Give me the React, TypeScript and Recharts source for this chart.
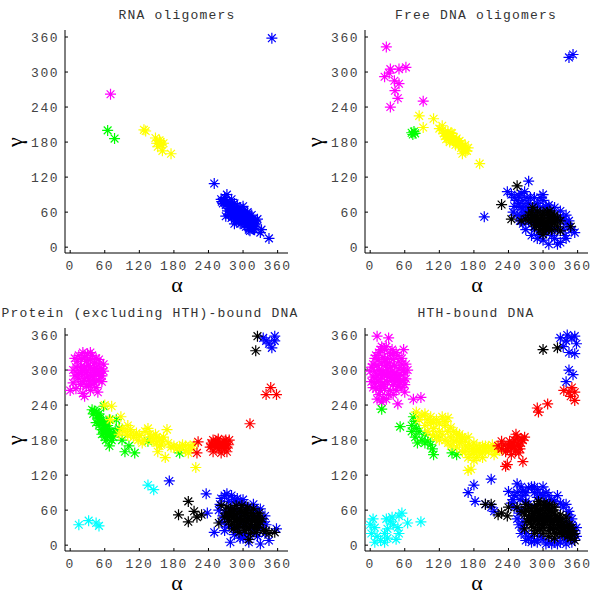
import React from 'react'
import { ScatterChart, Scatter, XAxis, YAxis } from 'recharts'

// angle ticks shared by every panel
const TICKS = [0, 60, 120, 180, 240, 300, 360]

// colours of the conformational classes
const MAGENTA = '#ff00ff'
const GREEN = '#00ff00'
const YELLOW = '#ffff00'
const RED = '#ff0000'
const CYAN = '#00ffff'
const BLUE = '#0000ff'
const BLACK = '#000000'

// [alpha, gamma] pairs
const rnaMagenta = [[70, 262]]
const rnaGreen = [[65, 200], [77, 186]]
const rnaYellow = [
  [128, 201], [131, 199], [148, 187], [150, 178], [155, 183], [158, 176], [162, 178],
  [160, 165], [175, 160], [152, 172], [157, 180],
]
const rnaBlue = [
  [250, 109], [350, 358], [345, 15], [330, 25], [332, 30],
  [262, 82], [268, 85], [272, 90], [280, 82], [265, 75], [270, 72], [275, 70], [278, 65],
  [282, 72], [285, 60], [288, 65], [290, 55], [292, 62], [295, 50], [298, 58], [300, 48],
  [302, 55], [305, 45], [308, 52], [310, 40], [312, 48], [315, 35], [318, 42], [320, 30],
  [322, 45], [325, 48], [312, 28], [305, 35], [295, 40], [288, 45], [280, 50], [275, 55],
  [270, 53], [285, 75], [295, 68], [300, 62], [308, 60], [315, 55], [298, 42], [290, 48],
  [283, 55], [278, 60], [303, 38], [310, 34], [318, 38], [290, 70], [300, 70], [285, 40],
  [263, 78], [267, 80], [272, 78], [277, 75], [281, 68], [286, 66], [291, 60], [296, 56],
  [301, 52], [306, 48], [311, 44], [316, 40], [321, 36], [273, 62], [278, 56], [283, 52],
  [288, 50], [293, 46], [298, 50], [303, 44], [308, 40], [313, 36], [318, 32], [296, 62],
  [302, 60], [307, 56], [312, 52], [317, 48], [322, 40], [292, 52], [287, 58], [282, 60],
  [276, 66], [310, 30], [300, 45], [305, 52],
]

const freeMagenta = [
  [28, 343], [35, 305], [33, 298], [25, 292], [50, 305], [62, 308], [42, 285], [50, 280],
  [43, 268], [48, 255], [35, 240], [92, 250],
]
const freeGreen = [[72, 196], [76, 198], [78, 195], [74, 193]]
const freeYellow = [
  [85, 225], [92, 205], [110, 220], [125, 208], [120, 203], [128, 195], [135, 198],
  [140, 190], [132, 185], [138, 180], [145, 188], [150, 180], [148, 175], [155, 182],
  [158, 170], [162, 168], [165, 175], [168, 165], [160, 160], [170, 170], [190, 143],
  [142, 195], [130, 190], [125, 200], [133, 192], [140, 196], [143, 183], [150, 186],
  [153, 176], [160, 174], [165, 165], [158, 178], [145, 182], [135, 188],
]
const freeBlue = [
  [198, 52], [275, 113], [345, 325], [352, 330], [238, 95], [245, 90], [250, 85], [255, 80],
  [258, 75], [262, 68], [265, 80], [270, 60], [275, 75], [272, 85], [268, 55], [260, 45],
  [255, 55], [248, 60], [280, 65], [285, 70], [290, 60], [295, 68], [300, 80], [305, 62],
  [310, 55], [315, 60], [320, 50], [325, 45], [330, 52], [335, 48], [340, 40], [345, 35],
  [355, 25], [338, 20], [330, 8], [325, 5], [310, 5], [315, 20], [305, 25], [295, 22],
  [320, 30], [300, 35], [285, 30], [280, 40], [275, 45], [290, 45], [310, 40], [325, 30],
  [265, 40], [270, 70], [290, 75], [305, 70], [250, 70], [258, 88], [262, 92], [268, 95],
  [278, 85], [285, 85], [295, 85], [300, 90], [310, 72], [320, 68], [330, 62], [340, 55],
  [345, 45], [350, 30], [335, 30], [340, 15], [320, 15], [300, 12], [290, 15], [280, 20],
  [270, 30], [260, 55], [265, 65],
]
const freeBlack = [
  [228, 73], [255, 105], [245, 48], [262, 45], [270, 48], [280, 60], [285, 50], [290, 45],
  [295, 55], [300, 40], [305, 50], [310, 45], [315, 38], [298, 30], [292, 35], [285, 42],
  [308, 60], [320, 45], [300, 22], [330, 28], [348, 35], [310, 30], [295, 48], [305, 42],
  [315, 50], [288, 55], [278, 48], [282, 68], [275, 55], [280, 45], [285, 35], [290, 50],
  [295, 40], [300, 55], [305, 35], [310, 50], [315, 45], [320, 40], [325, 50], [320, 55],
  [312, 62], [300, 60], [290, 62], [282, 55], [295, 30], [305, 30], [315, 30], [325, 35],
  [330, 45], [298, 45], [288, 38], [308, 38], [318, 52],
]

const protMagenta = [
  [15, 325], [22, 330], [30, 328], [38, 325], [45, 320], [12, 315], [20, 318], [28, 315],
  [35, 318], [42, 312], [50, 310], [10, 305], [18, 305], [25, 305], [32, 308], [40, 302],
  [48, 300], [55, 302], [12, 295], [20, 295], [28, 295], [35, 295], [45, 292], [52, 290],
  [15, 285], [25, 285], [32, 282], [40, 285], [50, 282], [18, 275], [28, 272], [38, 275],
  [45, 270], [0, 265], [10, 268], [22, 260], [25, 255], [35, 265], [48, 262], [5, 278],
  [55, 290], [30, 290], [8, 320], [25, 322], [35, 330], [50, 318], [58, 310], [58, 298],
  [55, 280], [42, 278], [32, 275], [22, 280], [15, 292], [8, 290], [5, 300], [38, 290],
  [45, 305], [28, 300], [20, 300], [35, 305], [42, 295], [50, 295],
]
const protGreen = [
  [38, 232], [42, 230], [45, 228], [50, 225], [48, 218], [52, 212], [55, 208], [45, 210],
  [58, 205], [60, 200], [62, 195], [55, 198], [65, 190], [70, 185], [68, 195], [75, 192],
  [60, 185], [72, 180], [58, 238], [68, 215], [80, 215], [85, 200], [90, 180], [95, 160],
  [102, 170], [112, 158], [135, 178], [190, 158], [68, 170], [78, 195], [65, 205],
  [40, 225], [48, 222], [52, 218], [58, 212], [62, 205], [58, 192], [65, 198], [70, 190],
  [75, 185], [62, 180], [55, 190], [50, 205],
]
const protYellow = [
  [60, 240], [72, 238], [70, 215], [88, 220], [90, 200], [95, 195], [100, 205], [105, 198],
  [115, 192], [120, 188], [128, 180], [125, 175], [135, 200], [140, 185], [145, 180],
  [150, 175], [155, 182], [148, 190], [158, 172], [160, 178], [152, 160], [165, 150],
  [168, 198], [180, 170], [185, 165], [195, 172], [200, 162], [205, 158], [210, 165],
  [215, 172], [218, 133], [100, 188], [85, 190], [110, 185], [105, 190], [118, 180],
  [130, 195], [138, 190], [142, 178], [150, 185], [155, 170], [162, 185], [170, 175],
  [175, 168], [190, 168], [200, 170], [208, 170],
]
const protRed = [
  [222, 177], [220, 158], [245, 175], [250, 170], [255, 178], [258, 165], [262, 158],
  [265, 172], [270, 180], [272, 168], [268, 165], [260, 175], [275, 172], [248, 180],
  [253, 168], [312, 208], [340, 258], [348, 270], [358, 258], [243, 168], [248, 160],
  [252, 175], [257, 182], [263, 168], [267, 178], [272, 160], [276, 180], [270, 172],
  [258, 172], [246, 172],
]
const protCyan = [[15, 35], [32, 42], [45, 38], [50, 33], [135, 103], [145, 95]]
const protBlue = [
  [172, 110], [236, 88], [238, 55], [250, 22], [278, 5], [330, 2], [345, 8], [358, 28],
  [260, 70], [268, 85], [280, 85], [275, 75], [285, 78], [290, 72], [300, 70], [310, 65],
  [320, 60], [325, 55], [330, 45], [335, 40], [330, 30], [320, 25], [310, 18], [300, 20],
  [290, 25], [280, 30], [270, 35], [265, 50], [270, 60], [285, 60], [295, 55], [305, 50],
  [315, 45], [325, 35], [292, 40], [302, 35], [315, 30], [340, 350], [355, 358], [350, 338],
  [335, 355], [345, 345], [355, 350], [300, 12], [310, 5], [262, 80], [272, 88], [290, 80],
  [300, 78], [318, 70], [330, 62], [338, 50], [340, 35], [338, 20], [325, 15], [295, 12],
  [285, 18], [268, 25], [262, 40], [258, 60],
]
const protBlack = [
  [188, 52], [205, 75], [205, 40], [215, 58], [220, 48], [228, 52], [258, 38], [262, 68],
  [310, 10], [345, 20], [340, 25], [355, 22], [325, 358], [322, 333],
  [270, 55], [275, 45], [280, 50], [285, 40], [290, 55], [295, 45], [300, 50], [305, 40],
  [310, 48], [315, 38], [320, 45], [325, 50], [330, 40], [285, 62], [295, 62], [305, 60],
  [315, 55], [280, 35], [290, 30], [300, 32], [310, 28], [320, 30], [275, 40], [300, 42],
  [290, 45], [310, 55], [325, 30], [335, 25], [272, 65], [278, 58], [283, 48], [288, 40],
  [293, 35], [298, 58], [303, 55], [308, 45], [313, 35], [318, 50], [323, 40], [328, 35],
  [333, 45], [283, 28], [293, 22], [303, 25], [313, 20], [323, 22], [278, 62], [288, 68],
  [298, 68], [308, 65], [318, 62], [328, 55], [296, 38], [306, 32], [316, 42], [326, 45],
  [286, 52], [276, 52], [268, 48],
]

const hthMagenta = [
  [12, 358], [32, 355], [58, 335], [45, 330], [20, 340], [15, 330], [25, 335], [35, 328],
  [8, 320], [15, 318], [22, 322], [30, 320], [40, 318], [50, 315], [55, 310], [5, 310],
  [12, 308], [20, 310], [28, 308], [35, 305], [42, 308], [50, 302], [58, 300], [0, 298],
  [8, 298], [15, 300], [22, 298], [30, 300], [38, 298], [45, 295], [52, 292], [60, 295],
  [5, 288], [12, 290], [20, 288], [28, 290], [35, 288], [42, 285], [50, 285], [58, 282],
  [8, 278], [15, 280], [22, 278], [30, 280], [40, 275], [48, 272], [55, 270], [10, 268],
  [18, 265], [25, 268], [35, 265], [45, 265], [15, 258], [22, 252], [48, 242], [75, 250],
  [88, 253], [60, 262], [20, 245], [3, 305], [10, 325], [18, 335], [28, 340], [38, 335],
  [48, 325], [55, 320], [62, 310], [65, 300], [62, 285], [60, 275], [52, 278], [45, 280],
  [38, 282], [25, 275], [18, 272], [5, 270], [2, 280], [25, 292], [32, 295], [40, 292],
  [48, 290], [10, 285], [18, 295], [25, 315], [33, 312], [40, 325], [28, 250], [32, 258],
  [40, 258], [12, 250],
]
const hthGreen = [
  [20, 233], [52, 203], [75, 220], [78, 212], [72, 205], [80, 200], [72, 195], [85, 195],
  [78, 185], [90, 180], [95, 175], [100, 178], [105, 172], [108, 165], [110, 155], [95, 190],
  [115, 185], [142, 158], [150, 155], [82, 175],
]
const hthYellow = [
  [80, 228], [90, 222], [100, 215], [95, 205], [105, 210], [115, 215], [125, 220], [135, 218],
  [140, 202], [110, 200], [120, 195], [100, 195], [115, 185], [125, 190], [130, 180],
  [140, 185], [145, 178], [150, 180], [155, 175], [160, 185], [165, 178], [170, 185],
  [150, 168], [160, 160], [170, 165], [175, 155], [180, 160], [185, 170], [190, 165],
  [195, 158], [200, 170], [205, 160], [210, 165], [215, 155], [175, 130], [170, 128],
  [185, 150], [195, 170], [155, 190], [135, 195], [220, 168], [180, 175], [85, 215],
  [95, 225], [105, 220], [110, 210], [120, 208], [130, 205], [130, 212], [145, 195],
  [150, 190], [158, 182], [165, 170], [172, 172], [178, 165], [185, 162], [190, 158],
  [200, 162], [205, 168], [212, 172], [218, 160], [225, 162], [195, 150], [180, 145],
  [170, 150], [165, 160], [140, 170], [135, 175], [120, 180], [108, 188],
]
const hthRed = [
  [222, 170], [228, 165], [235, 160], [240, 170], [245, 165], [248, 175], [250, 180],
  [255, 185], [258, 170], [252, 160], [260, 165], [245, 155], [262, 182], [265, 143],
  [235, 135], [238, 138], [290, 235], [292, 228], [308, 242], [336, 265], [345, 262],
  [350, 270], [355, 262], [348, 255], [355, 248], [242, 178], [250, 168], [255, 175],
  [258, 158], [245, 170], [238, 165], [232, 172], [262, 175], [228, 178], [253, 190],
  [265, 180], [268, 185],
]
const hthCyan = [
  [5, 45], [0, 35], [8, 30], [2, 20], [12, 15], [18, 8], [25, 5], [8, 5], [30, 12], [28, 45],
  [35, 40], [38, 48], [30, 28], [40, 35], [48, 30], [45, 10], [50, 20], [50, 50], [55, 55],
  [65, 38], [88, 40], [25, 20],
]
const hthBlue = [
  [180, 103], [170, 90], [182, 75], [210, 113], [200, 70], [215, 58], [210, 65],
  [240, 92], [250, 85], [255, 105], [262, 100], [270, 90], [280, 100], [290, 95], [300, 100],
  [310, 85], [330, 72], [260, 78], [270, 75], [245, 72], [250, 65], [262, 60], [265, 40],
  [265, 30], [270, 20], [275, 12], [285, 8], [295, 15], [300, 10], [310, 5], [320, 8],
  [330, 5], [340, 8], [350, 12], [345, 52], [340, 40], [350, 35], [355, 25], [345, 20],
  [335, 15], [275, 70], [340, 25], [280, 15], [255, 45], [290, 82], [325, 85], [305, 75],
  [330, 355], [340, 350], [350, 355], [358, 345], [345, 330], [355, 328], [345, 300],
  [352, 292], [340, 280], [355, 358], [335, 340], [342, 360], [248, 78], [255, 90],
  [265, 92], [275, 98], [285, 90], [295, 88], [305, 90], [315, 78], [320, 75], [335, 65],
  [345, 58], [350, 45], [358, 30], [358, 15], [350, 5], [340, 2], [325, 2], [315, 2],
  [305, 2], [290, 5], [280, 5], [270, 8], [262, 20], [258, 35], [258, 55], [265, 85],
  [285, 100], [340, 70], [300, 85],
]
const hthBlack = [
  [200, 70], [210, 70], [222, 52], [228, 55], [238, 50], [240, 65], [255, 65], [262, 58],
  [268, 28], [300, 335], [325, 338],
  [270, 60], [275, 50], [280, 45], [285, 55], [290, 48], [295, 60], [300, 55], [305, 45],
  [310, 50], [315, 40], [320, 45], [325, 35], [330, 30], [335, 25], [340, 32], [350, 30],
  [355, 20], [355, 8], [345, 25], [280, 35], [290, 35], [300, 30], [310, 25], [320, 20],
  [285, 65], [295, 70], [305, 68], [315, 60], [300, 40], [290, 25], [310, 35], [330, 45],
  [275, 65], [270, 70], [275, 58], [280, 62], [285, 45], [290, 58], [295, 50], [300, 62],
  [305, 55], [310, 60], [315, 50], [320, 55], [325, 45], [330, 40], [335, 35], [340, 40],
  [345, 35], [350, 25], [278, 40], [283, 30], [288, 42], [293, 38], [298, 45], [303, 35],
  [308, 42], [313, 30], [318, 35], [323, 28], [328, 22], [333, 18], [338, 20], [343, 15],
  [348, 12], [300, 20], [310, 15], [320, 12], [295, 28], [285, 20], [305, 68], [290, 68],
  [275, 45], [340, 48], [330, 52], [320, 65], [312, 70], [268, 52], [272, 40], [282, 50],
  [287, 62], [292, 52], [297, 35], [302, 48], [307, 62], [312, 45], [317, 28], [322, 50],
  [327, 40], [332, 35], [337, 28], [342, 22], [347, 30], [352, 18], [317, 65], [302, 72],
  [292, 75],
]

type Pair = number[]
interface Series { color: string; pts: Pair[] }

const toRows = (pts: Pair[]) => pts.map(([a, g]) => ({ a, g }))

// matlab style '*' marker
const star = (color: string) => (props: any) => {
  const { cx, cy } = props
  if (cx == null || cy == null) return <g />
  const r = 5.5
  const d = r * 0.707
  const path =
    `M${cx - r},${cy}H${cx + r}M${cx},${cy - r}V${cy + r}` +
    `M${cx - d},${cy - d}L${cx + d},${cy + d}M${cx - d},${cy + d}L${cx + d},${cy - d}`
  return <path d={path} stroke={color} strokeWidth={1.2} fill="none" />
}

const tickStyle = {
  fill: '#444',
  fontSize: 13,
  fontFamily: '"Liberation Mono", monospace',
  letterSpacing: 1.5,
}
const XDOM: [number, number] = [-9, 378]
const YDOM: [number, number] = [-10, 372]
const blank = () => ''

function Panel({ left, top, title, titleX, series }: {
  left: number; top: number; title: string; titleX: number; series: Series[]
}) {
  return (
    <div style={{ position: 'absolute', left, top, width: 300, height: 300 }}>
      <ScatterChart width={300} height={300} margin={{ top: 30, right: 12, bottom: 22, left: 5 }}>
        <XAxis type="number" dataKey="a" domain={XDOM} ticks={TICKS} allowDataOverflow
          height={25} stroke="#000" tickSize={-3} tickMargin={11} tick={tickStyle} />
        <XAxis xAxisId="top" orientation="top" type="number" domain={XDOM} ticks={TICKS}
          allowDataOverflow height={0} stroke="#000" tickSize={-3} tickFormatter={blank} />
        <YAxis type="number" dataKey="g" domain={YDOM} ticks={TICKS} allowDataOverflow
          width={60} stroke="#000" tickSize={-3} tickMargin={9} tick={tickStyle} />
        <YAxis yAxisId="right" orientation="right" type="number" domain={YDOM} ticks={TICKS}
          allowDataOverflow width={0} stroke="#000" tickSize={-3} tickFormatter={blank} />
        {series.map((s, i) => (
          <Scatter key={i} data={toRows(s.pts)} fill={s.color} shape={star(s.color)}
            isAnimationActive={false} />
        ))}
      </ScatterChart>
      <div style={{
        position: 'absolute', left: titleX - 200, width: 400, top: 8, textAlign: 'center',
        fontFamily: '"Liberation Mono", monospace', fontSize: 13, letterSpacing: 1.2,
        color: '#333', whiteSpace: 'nowrap',
      }}>{title}</div>
      <div style={{
        position: 'absolute', left: 167, width: 20, top: 276, textAlign: 'center',
        fontFamily: '"Liberation Serif", serif', fontSize: 22, color: '#000', lineHeight: '18px',
      }}>α</div>
      <div style={{
        position: 'absolute', left: 5, width: 20, top: 133, textAlign: 'center',
        fontFamily: '"Liberation Serif", serif', fontSize: 22, color: '#000', lineHeight: '18px',
        transform: 'rotate(-90deg)',
      }}>γ</div>
    </div>
  )
}

export default function App() {
  return (
    <div style={{ position: 'absolute', left: 0, top: 0, width: 600, height: 597, background: '#fff' }}>
      <Panel left={0} top={0} title="RNA oligomers" titleX={177} series={[
        { color: MAGENTA, pts: rnaMagenta },
        { color: GREEN, pts: rnaGreen },
        { color: YELLOW, pts: rnaYellow },
        { color: BLUE, pts: rnaBlue },
      ]} />
      <Panel left={300} top={0} title="Free DNA oligomers" titleX={176} series={[
        { color: MAGENTA, pts: freeMagenta },
        { color: GREEN, pts: freeGreen },
        { color: YELLOW, pts: freeYellow },
        { color: BLUE, pts: freeBlue },
        { color: BLACK, pts: freeBlack },
      ]} />
      <Panel left={0} top={298} title="Protein (excluding HTH)-bound DNA" titleX={150} series={[
        { color: MAGENTA, pts: protMagenta },
        { color: GREEN, pts: protGreen },
        { color: YELLOW, pts: protYellow },
        { color: RED, pts: protRed },
        { color: CYAN, pts: protCyan },
        { color: BLUE, pts: protBlue },
        { color: BLACK, pts: protBlack },
      ]} />
      <Panel left={300} top={298} title="HTH-bound DNA" titleX={176} series={[
        { color: MAGENTA, pts: hthMagenta },
        { color: GREEN, pts: hthGreen },
        { color: YELLOW, pts: hthYellow },
        { color: RED, pts: hthRed },
        { color: CYAN, pts: hthCyan },
        { color: BLUE, pts: hthBlue },
        { color: BLACK, pts: hthBlack },
      ]} />
    </div>
  )
}
